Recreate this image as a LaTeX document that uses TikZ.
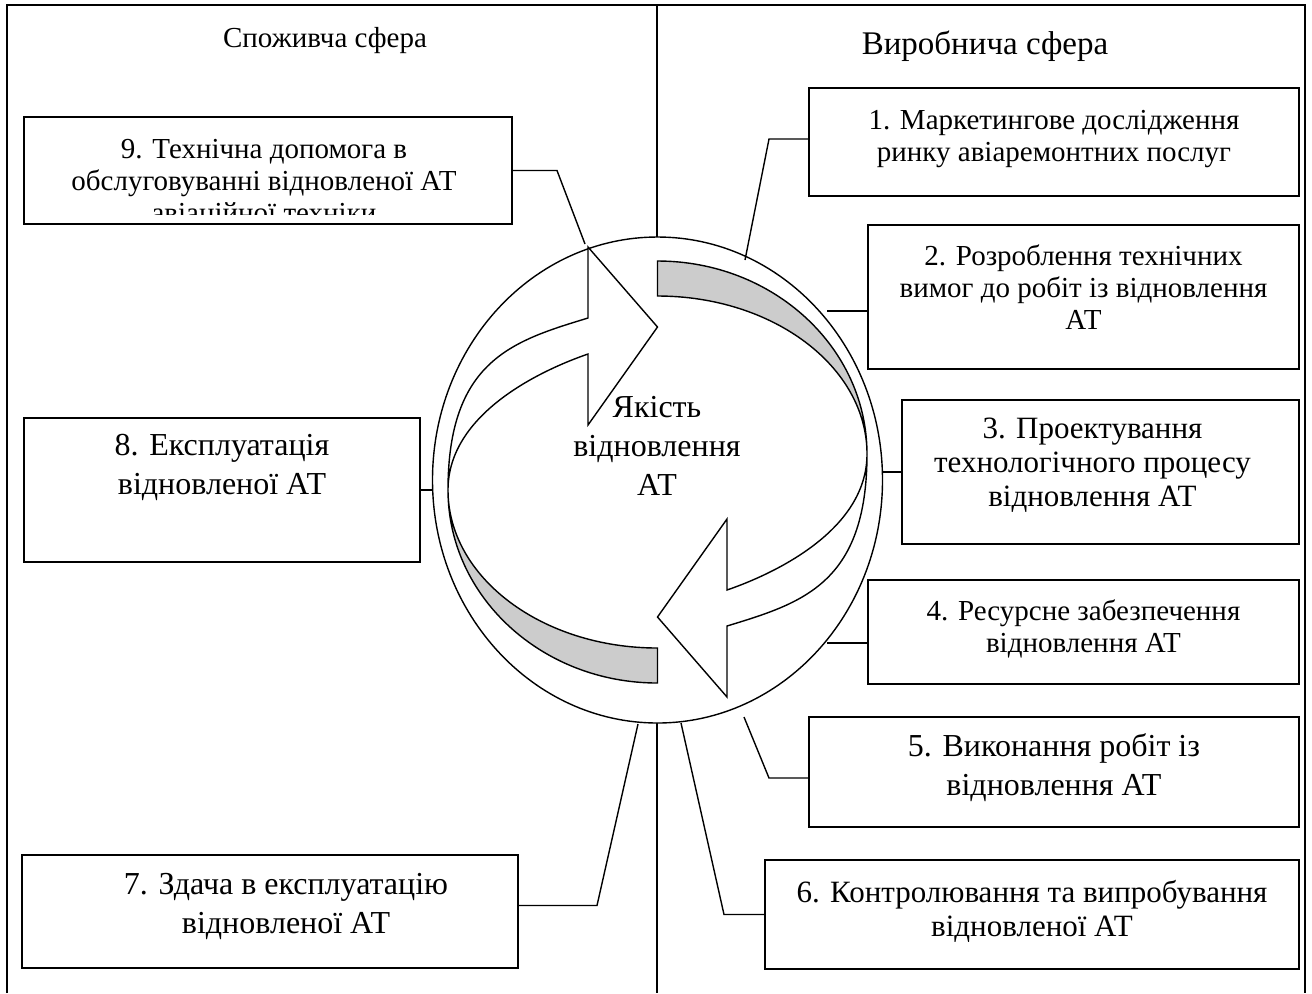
\documentclass[tikz,border=0pt]{standalone}
\usepackage{fontspec}
\setmainfont{Liberation Serif}
\usetikzlibrary{positioning,shapes.geometric}

\begin{document}
\begin{tikzpicture}[x=0.5pt, y=-0.5pt,
  box/.style={draw, line width=1pt, inner sep=0pt, outer sep=0pt, anchor=north west},
  txt/.style={align=center, inner sep=0pt, font=\fontsize{14.5}{16}\selectfont},
  midtxt/.style={align=center, inner sep=0pt, font=\fontsize{15.5}{16.8}\selectfont},
  bigtxt/.style={align=center, inner sep=0pt, font=\fontsize{16}{19.5}\selectfont},
  link/.style={line width=0.7pt},
  band/.style={draw, fill=black!20, line width=0.7pt},
  body/.style={draw, fill=white, line width=0.7pt}]
  \useasboundingbox (0,0) rectangle (1312,993);

  % frame and the two spheres
  \draw[line width=0.8pt] (7,993) -- (7,5) -- (1305,5) -- (1305,993);
  \draw[line width=0.8pt] (657,5) -- (657,993);
  \node[txt] (cons) at (325,41) {Споживча сфера};
  \node[txt, font=\fontsize{16.5}{18}\selectfont] (prod) at (985,46) {Виробнича сфера};

  % quality circle with two turning arrows
  \node[ellipse, draw, fill=white, line width=0.7pt, minimum width=225pt,
        minimum height=243pt, inner sep=0pt] (q) at (657.5,480) {};
  \foreach \r in {0,180} {
    \begin{scope}[shift={(657.5,472)}, rotate=\r]
      \draw[band] (0,211) arc[start angle=90, end angle=180, x radius=209.5, y radius=193]
        arc[start angle=180, end angle=90, x radius=209.5, y radius=158] -- cycle;
      \draw[body] (-209.5,18) .. controls (-209.5,-112) and (-144.1,-131.2) .. (-69.5,-154)
        -- (-69.5,-225) -- (0,-145) -- (-69.5,-47) -- (-69.5,-118)
        .. controls (-118.7,-101) and (-209.5,-57.5) .. (-209.5,18) -- cycle;
    \end{scope}
  }
  \node[bigtxt] (qt) at (657,446) {Якість\\відновлення\\АТ};

  % production sphere
  \node[box, minimum width=245pt, minimum height=54pt] (b1) at (809,88) {};
  \node[txt, below=11pt of b1.north] (t1) {1. Маркетингове дослідження\\ринку авіаремонтних послуг};
  \node[box, minimum width=215.5pt, minimum height=72pt] (b2) at (868,225) {};
  \node[txt, below=9.5pt of b2.north] (t2) {2. Розроблення технічних\\вимог до робіт із відновлення\\АТ};
  \node[box, minimum width=198.5pt, minimum height=72pt] (b3) at (902,400) {};
  \node[midtxt, below=9pt of b3.north, xshift=-4pt] (t3) {3. Проектування\\технологічного процесу\\відновлення АТ};
  \node[box, minimum width=215.5pt, minimum height=52pt] (b4) at (868,580) {};
  \node[txt, below=9.5pt of b4.north] (t4) {4. Ресурсне забезпечення\\відновлення АТ};
  \node[box, minimum width=245pt, minimum height=55pt] (b5) at (809,717) {};
  \node[bigtxt, below=8pt of b5.north] (t5) {5. Виконання робіт із\\відновлення АТ};
  \node[box, minimum width=267pt, minimum height=54.5pt] (b6) at (765,860) {};
  \node[midtxt, below=10pt of b6.north] (t6) {6. Контролювання та випробування\\відновленої АТ};

  % consumer sphere
  \node[box, minimum width=248pt, minimum height=56.5pt] (b7) at (22,855) {};
  \node[bigtxt, below=9pt of b7.north, xshift=8pt] (t7) {7. Здача в експлуатацію\\відновленої АТ};
  \node[box, minimum width=198pt, minimum height=72pt] (b8) at (24,418) {};
  \node[bigtxt, below=8pt of b8.north] (t8) {8. Експлуатація\\відновленої АТ};
  \node[box, minimum width=244pt, minimum height=53.5pt] (b9) at (24,117) {};
  \begin{scope}
    \clip (b9.north west) rectangle ([yshift=5pt]b9.south east);
    \node[txt, below=11pt of b9.north, xshift=-2pt] (t9) {9. Технічна допомога в\\обслуговуванні відновленої АТ\\авіаційної техніки};
  \end{scope}

  % links to the circle
  \coordinate (e1) at (745,260);
  \coordinate (e2) at (827,311);
  \coordinate (e4) at (827,643);
  \coordinate (e5) at (744,717);
  \coordinate (e6) at (681,723);
  \coordinate (e7) at (638,724);
  \coordinate (e9) at (585,244);
  \draw[link] ([yshift=1.5pt]b1.west) -- ++(-40,0) -- (e1);
  \draw[link] ([yshift=-7pt]b2.west) -- (e2);
  \draw[link] (b3.west) -- (b3.west -| q.east);
  \draw[link] ([yshift=-5.5pt]b4.west) -- (e4);
  \draw[link] ([yshift=-3pt]b5.west) -- ++(-40,0) -- (e5);
  \draw[link] (b6.west) -- ++(-41,0) -- (e6);
  \draw[link] ([yshift=3pt]b7.east) -- ++(79,0) -- (e7);
  \draw[link] (b8.east) -- (b8.east -| q.west);
  \draw[link] (b9.east) -- ++(45,0) -- (e9);
\end{tikzpicture}
\end{document}
